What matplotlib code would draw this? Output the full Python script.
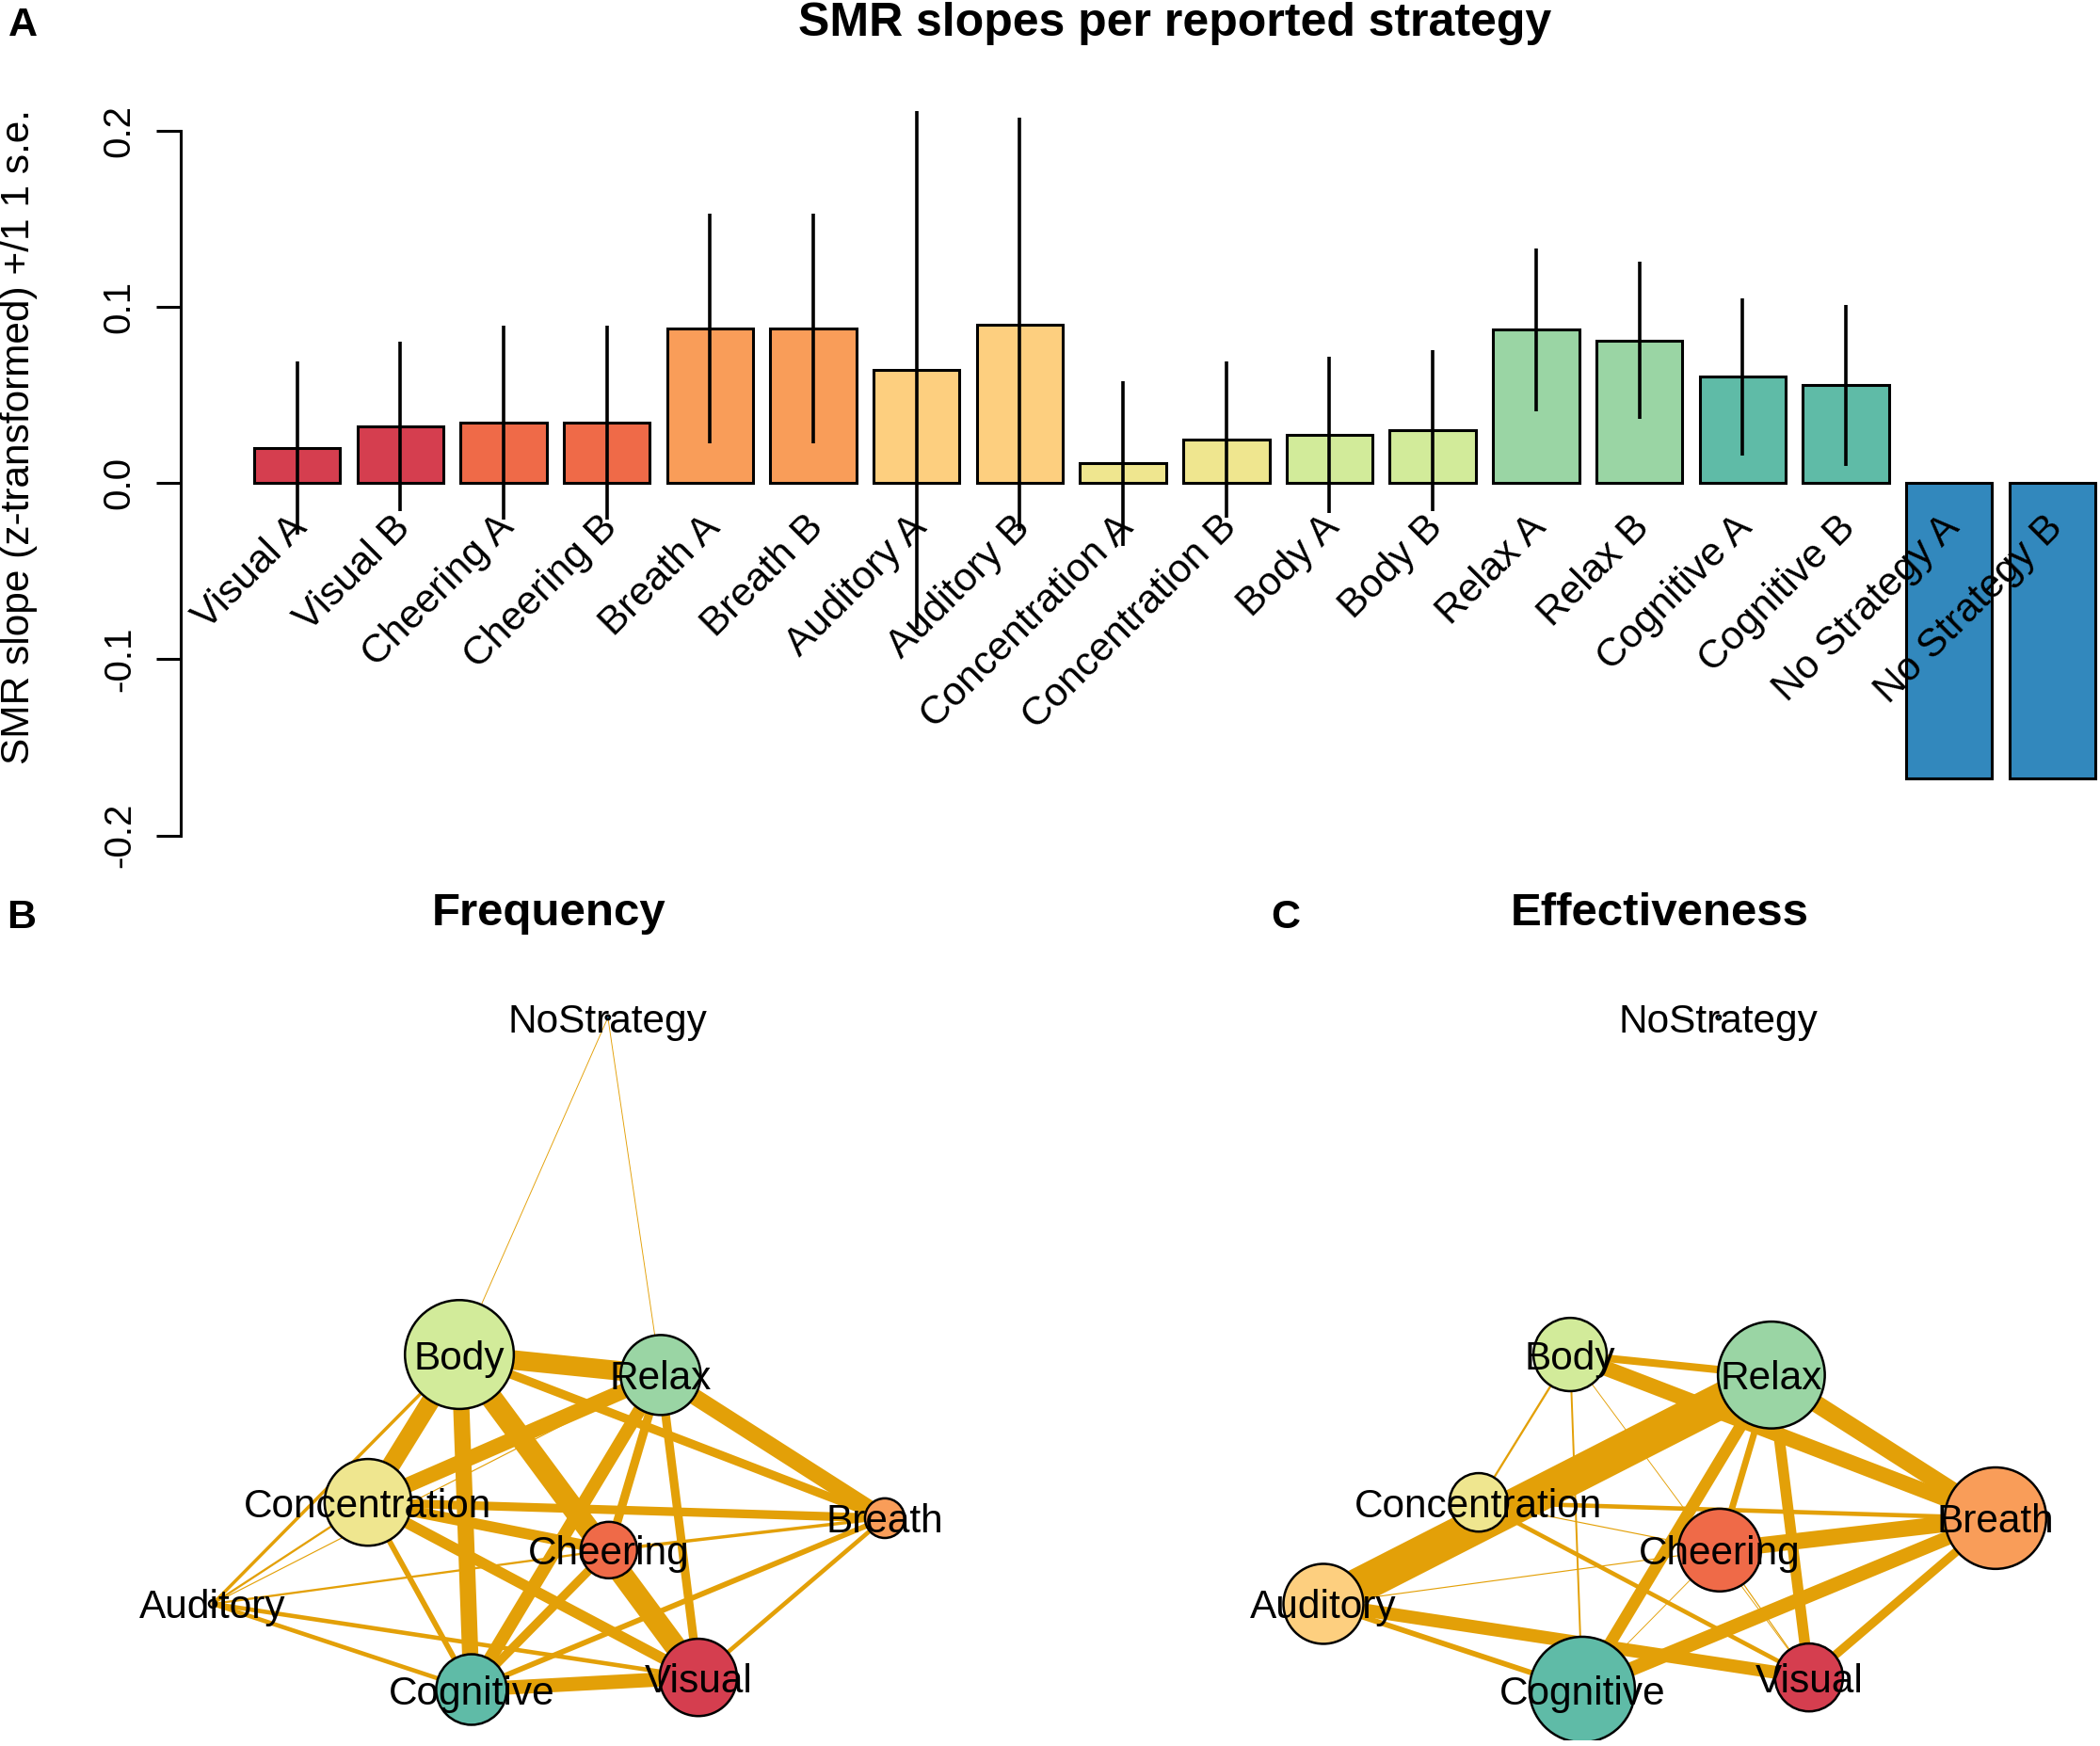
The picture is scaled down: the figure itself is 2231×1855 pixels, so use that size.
import matplotlib
matplotlib.use('Agg')

import matplotlib.pyplot as plt
import numpy as np
from matplotlib.patches import Circle

plt.rcParams['font.family'] = ['Liberation Sans', 'DejaVu Sans']

# ---- Panel A: SMR slope per strategy and session ----
bar_labels = ['Visual A', 'Visual B', 'Cheering A', 'Cheering B', 'Breath A', 'Breath B',
              'Auditory A', 'Auditory B', 'Concentration A', 'Concentration B',
              'Body A', 'Body B', 'Relax A', 'Relax B', 'Cognitive A', 'Cognitive B',
              'No Strategy A', 'No Strategy B']
bar_strategy = ['Visual', 'Visual', 'Cheering', 'Cheering', 'Breath', 'Breath',
                'Auditory', 'Auditory', 'Concentration', 'Concentration',
                'Body', 'Body', 'Relax', 'Relax', 'Cognitive', 'Cognitive',
                'NoStrategy', 'NoStrategy']
slopes = [0.0199, 0.0319, 0.0341, 0.0341, 0.0875, 0.0875, 0.0641, 0.0900, 0.0110, 0.0246,
          0.0272, 0.0297, 0.0869, 0.0809, 0.0603, 0.0553, -0.1678, -0.1678]
slope_se = [0.049, 0.048, 0.055, 0.055, 0.065, 0.065, 0.147, 0.117, 0.0465, 0.0443,
            0.0445, 0.0458, 0.0462, 0.0445, 0.0446, 0.0458, np.nan, np.nan]

# Spectral-like palette per strategy
strategy_colours = {
    'Visual': '#D53E4F', 'Cheering': '#EF6A48', 'Breath': '#F99D59',
    'Auditory': '#FDCF7F', 'Concentration': '#EFE68F', 'Body': '#D2EB9A',
    'Relax': '#9AD5A4', 'Cognitive': '#5FBBA7', 'NoStrategy': '#3288BD',
}

# ---- Panels B/C: strategy networks (shared layout) ----
nodes = ['Visual', 'Cheering', 'Breath', 'Auditory', 'Concentration',
         'Body', 'Relax', 'Cognitive', 'NoStrategy']
layout_x = [0.445, 0.179, 1.0, -1.0, -0.538, -0.266, 0.333, -0.230, 0.176]
layout_y = [-0.964, -0.585, -0.490, -0.745, -0.443, -0.003, -0.064, -1.0, 1.0]

# node sizes (qgraph vsize-like)
freq_size = [11.5, 8.4, 5.9, 1.1, 12.9, 16.2, 11.9, 10.5, 0.6]
eff_size = [10.1, 12.3, 15.1, 11.9, 8.7, 10.9, 15.9, 15.7, 0.6]

freq_edges = [
    ('NoStrategy', 'Body', 0.8), ('NoStrategy', 'Relax', 0.8),
    ('Body', 'Relax', 18), ('Body', 'Concentration', 17), ('Body', 'Cognitive', 15),
    ('Body', 'Visual', 20), ('Body', 'Breath', 8), ('Body', 'Auditory', 3),
    ('Relax', 'Concentration', 14), ('Relax', 'Cheering', 8), ('Relax', 'Cognitive', 12),
    ('Relax', 'Visual', 8), ('Relax', 'Breath', 15), ('Relax', 'Auditory', 1),
    ('Concentration', 'Breath', 8), ('Concentration', 'Cheering', 10),
    ('Concentration', 'Visual', 10), ('Concentration', 'Cognitive', 5),
    ('Concentration', 'Auditory', 2), ('Auditory', 'Cheering', 2),
    ('Auditory', 'Visual', 4), ('Auditory', 'Cognitive', 4),
    ('Cheering', 'Cognitive', 8), ('Cheering', 'Breath', 3),
    ('Cognitive', 'Visual', 13), ('Cognitive', 'Breath', 5), ('Visual', 'Breath', 4),
]
eff_edges = [
    ('Auditory', 'Relax', 33), ('Body', 'Relax', 7), ('Body', 'Breath', 14),
    ('Relax', 'Breath', 16), ('Auditory', 'Visual', 12), ('Auditory', 'Cognitive', 5),
    ('Auditory', 'Cheering', 1), ('Body', 'Concentration', 2), ('Body', 'Cognitive', 1.7),
    ('Body', 'Visual', 0.8), ('Cheering', 'Visual', 1), ('Concentration', 'Breath', 4),
    ('Concentration', 'Cheering', 1), ('Concentration', 'Visual', 4),
    ('Cheering', 'Cognitive', 0.8), ('Relax', 'Cognitive', 11), ('Cognitive', 'Breath', 13),
    ('Cheering', 'Breath', 15), ('Relax', 'Cheering', 6), ('Relax', 'Visual', 10),
    ('Visual', 'Breath', 8),
]
edge_colour = '#E3A008'

W, H = 2231, 1855
fig = plt.figure(figsize=(W / 100, H / 100), dpi=100)


def px_axes(left, top, right, bottom):
    return fig.add_axes([left / W, 1 - bottom / H, (right - left) / W, (bottom - top) / H])


# ---------------- Panel A ----------------
ax = px_axes(191.7, 100, 2231, 930)
xpos = 0.7 + 1.2 * np.arange(len(slopes))
bar_colours = [strategy_colours[s] for s in bar_strategy]
ax.bar(xpos, slopes, width=1.0, color=bar_colours, edgecolor='black', linewidth=2.2, zorder=2)
se = np.array(slope_se)
sl = np.array(slopes)
ok = ~np.isnan(se)
ax.vlines(xpos[ok], sl[ok] - se[ok], sl[ok] + se[ok], color='black', linewidth=2.6, zorder=3)
for x, lab in zip(xpos, bar_labels):
    ax.text(x + 0.05, -0.022, lab, rotation=45, ha='right', va='center', rotation_mode='anchor',
            fontsize=30.5, zorder=4)

ax.set_xlim(-0.656, 21.655)
ax.set_ylim(-0.22264, 0.22056)
for s in ['top', 'right', 'bottom']:
    ax.spines[s].set_visible(False)
ax.spines['left'].set_bounds(-0.2, 0.2)
ax.spines['left'].set_linewidth(2.2)
ax.set_xticks([])
ax.set_yticks([-0.2, -0.1, 0.0, 0.1, 0.2])
ax.set_yticklabels(['-0.2', '-0.1', '0.0', '0.1', '0.2'], rotation=90, va='center')
ax.tick_params(axis='y', length=19, width=2.2, labelsize=29, pad=14)
ax.patch.set_visible(False)

fig.text(20 / W, 1 - 464 / H, 'SMR slope (z-transformed) +/1 1 s.e.', rotation=90,
         ha='center', va='center', fontsize=30.5)
fig.text(1248 / W, 1 - 38 / H, 'SMR slopes per reported strategy', ha='center',
         va='baseline', fontsize=36, fontweight='bold')
fig.text(8.5 / W, 1 - 38.5 / H, 'A', ha='left', va='baseline', fontsize=31, fontweight='bold')


# ---------------- Panels B and C ----------------
def draw_network(cx, sizes, edges, title, letter, letter_x):
    unit = 357
    axn = px_axes(cx - 1.3 * unit, 1438 - 1.3 * unit, cx + 1.3 * unit, 1438 + 1.15 * unit)
    axn.set_xlim(-1.3, 1.3)
    axn.set_ylim(-1.15, 1.3)
    axn.axis('off')
    idx = {n: i for i, n in enumerate(nodes)}
    for a, b, w in edges:
        i, j = idx[a], idx[b]
        axn.plot([layout_x[i], layout_x[j]], [layout_y[i], layout_y[j]], color=edge_colour,
                 linewidth=w * 0.83, solid_capstyle='butt', zorder=1)
    for i, n in enumerate(nodes):
        axn.add_patch(Circle((layout_x[i], layout_y[i]), sizes[i] / 100,
                             facecolor=strategy_colours[n], edgecolor='black',
                             linewidth=1.8, zorder=2))
        axn.text(layout_x[i], layout_y[i], n, ha='center', va='center_baseline',
                 fontsize=30.5, zorder=3)
    fig.text(cx / W, 1 - 983 / H, title, ha='center', va='baseline', fontsize=35.5,
             fontweight='bold')
    fig.text(letter_x / W, 1 - 986 / H, letter, ha='left', va='baseline', fontsize=31,
             fontweight='bold')


draw_network(583, freq_size, freq_edges, 'Frequency', 'B', 7)
draw_network(1763, eff_size, eff_edges, 'Effectiveness', 'C', 1350)

plt.savefig('out.png', dpi=100)
plt.close(fig)
